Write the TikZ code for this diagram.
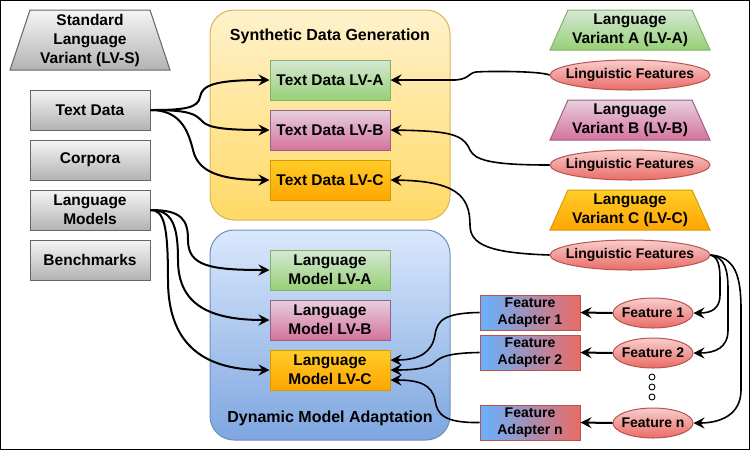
\documentclass[tikz,border=0pt]{standalone}
\usepackage{fontspec}
\setmainfont{Liberation Sans}
\usetikzlibrary{arrows.meta,shapes.geometric,calc}
\definecolor{graytop}{HTML}{F5F5F5}\definecolor{graybot}{HTML}{B3B3B3}\definecolor{graystroke}{HTML}{666666}
\definecolor{greentop}{HTML}{D5E8D4}\definecolor{greenbot}{HTML}{97D077}\definecolor{greenstroke}{HTML}{82B366}
\definecolor{pinktop}{HTML}{E6D0DE}\definecolor{pinkbot}{HTML}{D5739D}\definecolor{pinkstroke}{HTML}{996185}
\definecolor{orangetop}{HTML}{FFCD28}\definecolor{orangebot}{HTML}{FFA500}\definecolor{orangestroke}{HTML}{D79B00}
\definecolor{yellowtop}{HTML}{FFF2CC}\definecolor{yellowbot}{HTML}{FFD966}\definecolor{yellowstroke}{HTML}{D6B656}
\definecolor{bluetop}{HTML}{DAE8FC}\definecolor{bluebot}{HTML}{7EA6E0}\definecolor{bluestroke}{HTML}{6C8EBF}
\definecolor{redtop}{HTML}{F8CECC}\definecolor{redbot}{HTML}{EA6B66}\definecolor{redstroke}{HTML}{B85450}
\definecolor{adblue}{HTML}{66B2FF}
\begin{document}
\begin{tikzpicture}[x=1pt,y=-1pt,
  bigfont/.style={font=\bfseries\fontsize{15.5}{19}\selectfont},
  smallfont/.style={font=\bfseries\fontsize{14}{16.8}\selectfont},
  box/.style={draw, line width=1pt, minimum width=120pt, minimum height=40pt, inner sep=0pt, align=center, bigfont},
  graybox/.style={box, draw=graystroke, top color=graytop, bottom color=graybot},
  greenbox/.style={box, draw=greenstroke, top color=greentop, bottom color=greenbot},
  pinkbox/.style={box, draw=pinkstroke, top color=pinktop, bottom color=pinkbot},
  orangebox/.style={box, draw=orangestroke, top color=orangetop, bottom color=orangebot},
  container/.style={draw, line width=1pt, rounded corners=24pt, minimum width=240pt, minimum height=210pt, inner sep=0pt},
  title/.style={inner sep=0pt, font=\bfseries\fontsize{16}{19}\selectfont},
  lbl/.style={inner sep=0pt, align=center, bigfont},
  trap/.style={line width=1pt},
  lfell/.style={ellipse, draw=redstroke, line width=1pt, top color=redtop, bottom color=redbot, minimum width=160pt, minimum height=30pt, inner xsep=-8pt, inner ysep=0pt, smallfont},
  featell/.style={lfell, minimum width=80pt},
  adapter/.style={draw=redstroke, line width=1pt, left color=adblue, right color=redbot, minimum width=100pt, minimum height=35pt, inner sep=0pt, align=center, smallfont},
  dotc/.style={circle, draw, line width=0.9pt, fill=white, minimum size=6pt, inner sep=0pt},
  conn/.style={line width=2pt, -{Stealth[length=11pt,width=11pt,inset=4pt]}},
  thinconn/.style={conn, line width=1.6pt}
]
\useasboundingbox (0,0) rectangle (751,451);
\draw[line width=1pt] (0.5,0.5) rectangle (749.5,449.5);

% containers
\node[container, draw=yellowstroke, top color=yellowtop, bottom color=yellowbot] (sdg) at (330,115) {};
\node[title] (sdgt) at (330,36) {Synthetic Data Generation};
\node[container, draw=bluestroke, top color=bluetop, bottom color=bluebot] (dma) at (330,335) {};
\node[title] (dmat) at (330,418) {Dynamic Model Adaptation};

% trapezoids
\path[trap, draw=graystroke, top color=graytop, bottom color=graybot] (10,70) -- (30,10) -- (150,10) -- (170,70) -- cycle;
\node[lbl] (lvs) at (90,40) {Standard\\Language\\Variant (LV-S)};
\path[trap, draw=greenstroke, top color=greentop, bottom color=greenbot] (550,50) -- (568,10) -- (692,10) -- (710,50) -- cycle;
\node[lbl] (lva) at (630,30) {Language\\Variant A (LV-A)};
\path[trap, draw=pinkstroke, top color=pinktop, bottom color=pinkbot] (550,140) -- (568,100) -- (692,100) -- (710,140) -- cycle;
\node[lbl] (lvb) at (630,120) {Language\\Variant B (LV-B)};
\path[trap, draw=orangestroke, top color=orangetop, bottom color=orangebot] (550,230) -- (568,190) -- (692,190) -- (710,230) -- cycle;
\node[lbl] (lvc) at (630,210) {Language\\Variant C (LV-C)};

% gray boxes
\node[graybox] (td) at (90,110) {Text Data};
\node[graybox] (corp) at (90,160) {Corpora};
\node[graybox] (lm) at (90,210) {Language\\Models};
\node[graybox] (bench) at (90,260) {Benchmarks};

% text data variants
\node[greenbox] (tda) at (330,80) {Text Data LV-A};
\node[pinkbox] (tdb) at (330,130) {Text Data LV-B};
\node[orangebox] (tdc) at (330,180) {Text Data LV-C};

% language models
\node[greenbox] (lma) at (330,270) {Language\\Model LV-A};
\node[pinkbox] (lmb) at (330,320) {Language\\Model LV-B};
\node[orangebox] (lmc) at (330,370) {Language\\Model LV-C};

% linguistic features
\node[lfell] (lf1) at (630,75) {Linguistic Features};
\node[lfell] (lf2) at (630,165) {Linguistic Features};
\node[lfell] (lf3) at (630,255) {Linguistic Features};

% features
\node[featell] (f1) at (653,313) {Feature 1};
\node[featell] (f2) at (653,353) {Feature 2};
\node[featell] (fn) at (653,423) {Feature n};
\node[dotc] (d1) at (652,377) {};
\node[dotc] (d2) at (652,387) {};
\node[dotc] (d3) at (652,397) {};

% adapters
\node[adapter] (fa1) at (530,312.5) {Feature\\Adapter 1};
\node[adapter] (fa2) at (530,352.5) {Feature\\Adapter 2};
\node[adapter] (fan) at (530,422.5) {Feature\\Adapter n};

% connectors: text data
\draw[conn] (td.east) .. controls (185,110) and (198,108) .. (200,97) .. controls (202,85) and (215,80) .. (tda.west);
\draw[conn] (td.east) .. controls (190,110) and (195,114) .. (202,121) .. controls (208,128) and (225,130) .. (tdb.west);
\draw[conn] (td.east) .. controls (180,110) and (188,130) .. (193,150) .. controls (198,172) and (220,180) .. (tdc.west);

% connectors: language models
\draw[conn] (lm.east) .. controls (182,210) and (188,220) .. (188,240) .. controls (188,266) and (210,270) .. (lma.west);
\draw[conn] (lm.east) .. controls (172,210) and (178,225) .. (178,260) .. controls (178,305) and (210,320) .. (lmb.west);
\draw[conn] (lm.east) .. controls (164,210) and (168,225) .. (168,280) .. controls (168,350) and (210,370) .. (lmc.west);

% connectors: linguistic features to text data
\draw[thinconn] (lf1.west) .. controls (540,71) and (490,71) .. (476,72) .. controls (468,73) and (470,79) .. (455,80) -- (tda.east);
\draw[thinconn] (lf2.west) .. controls (490,165) and (475,160) .. (470,150) .. controls (463,134) and (450,131) .. (tdb.east);
\draw[thinconn] (lf3.west) .. controls (490,253) and (470,245) .. (470,225) .. controls (470,195) and (455,181) .. (tdc.east);

% connectors: linguistic features to features
\draw[thinconn] (lf3.east) .. controls (718,257) and (720,265) .. (720,280) -- (720,295) .. controls (720,308) and (712,313) .. (f1.east);
\draw[thinconn] (lf3.east) .. controls (725,257) and (728,270) .. (728,290) -- (728,330) .. controls (728,348) and (715,353) .. (f2.east);
\draw[thinconn] (lf3.east) .. controls (735,257) and (741,275) .. (741,310) -- (741,390) .. controls (741,415) and (720,423) .. (fn.east);

% features to adapters
\draw[conn] (f1.west) -- (fa1.east);
\draw[conn] (f2.west) -- (fa2.east);
\draw[conn] (fn.west) -- (fan.east);

% adapters to language model LV-C
\draw[thinconn] (fa1.west) .. controls (445,313) and (437,320) .. (435,335) .. controls (432,352) and (420,360) .. ($(lmc.east)+(0,-10)$);
\draw[thinconn] (fa2.west) .. controls (445,353) and (440,358) .. (435,362) .. controls (430,368) and (415,370) .. (lmc.east);
\draw[thinconn] (fan.west) .. controls (445,423) and (437,415) .. (435,400) .. controls (432,385) and (420,380) .. ($(lmc.east)+(0,10)$);
\end{tikzpicture}
\end{document}
